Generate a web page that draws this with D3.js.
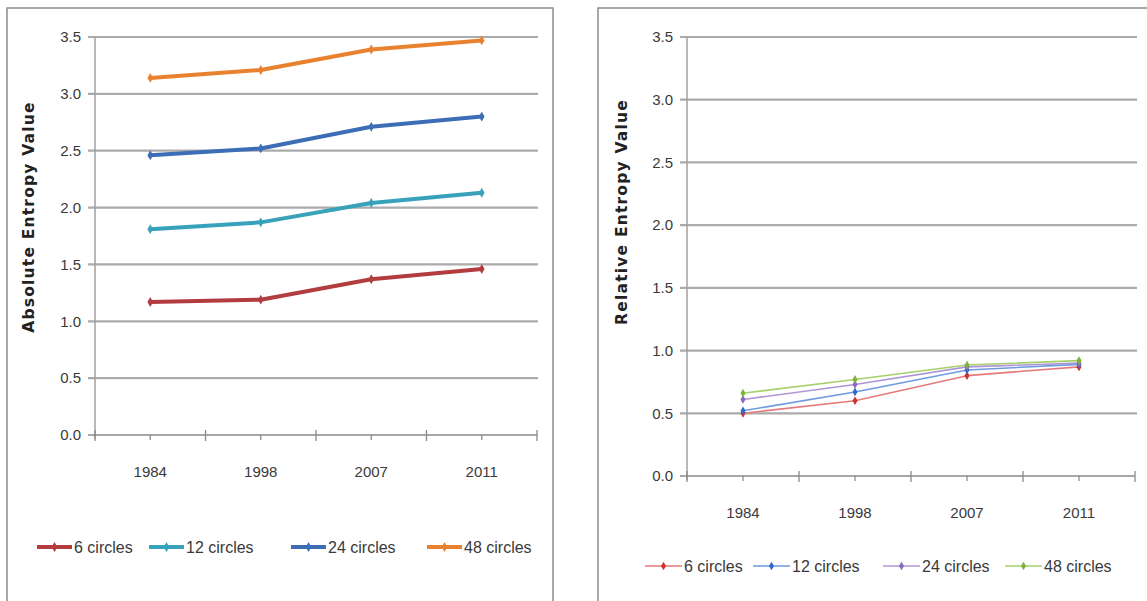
<!DOCTYPE html>
<html><head><meta charset="utf-8">
<script src="https://cdn.jsdelivr.net/npm/d3@7"></script>
<style>
html,body{margin:0;padding:0;background:#fff;}
text{font-family:"Liberation Sans",Arial,sans-serif;fill:#3a3a3a;}
</style></head>
<body><svg id="c" width="1147" height="601"></svg>
<script>
const years = ["1984","1998","2007","2011"];
const seriesNames = ["6 circles","12 circles","24 circles","48 circles"];
const yTicks = [0,0.5,1.0,1.5,2.0,2.5,3.0,3.5];
const absolute6 = [1.17,1.19,1.37,1.46];
const absolute12 = [1.81,1.87,2.04,2.13];
const absolute24 = [2.46,2.52,2.71,2.80];
const absolute48 = [3.14,3.21,3.39,3.47];
const relative6 = [0.50,0.60,0.80,0.87];
const relative12 = [0.52,0.67,0.845,0.89];
const relative24 = [0.61,0.73,0.87,0.90];
const relative48 = [0.66,0.77,0.885,0.92];

const svg = d3.select("#c");

function panel(cfg){
  const g = svg.append("g");
  g.append("rect").attr("x",cfg.frame[0]).attr("y",cfg.frame[1]).attr("width",cfg.frame[2]).attr("height",cfg.frame[3])
    .attr("fill","none").attr("stroke","#8c8c8c").attr("stroke-width",1.5);
  const x = d3.scaleBand().domain(years).range([cfg.x0,cfg.x1]);
  const y = d3.scaleLinear().domain([0,3.5]).range([cfg.y0,cfg.y1]);
  g.selectAll(".grid").data(yTicks.filter(t=>t>0)).join("line")
    .attr("x1",cfg.x0-7).attr("x2",cfg.gx1).attr("y1",d=>y(d)).attr("y2",d=>y(d))
    .attr("stroke","#ababab").attr("stroke-width",2.2);
  g.append("line").attr("x1",cfg.x0).attr("x2",cfg.x0).attr("y1",y(3.5)).attr("y2",y(0)+4)
    .attr("stroke","#a0a0a0").attr("stroke-width",1.5);
  g.append("line").attr("x1",cfg.x0-7).attr("x2",cfg.x1).attr("y1",y(0)).attr("y2",y(0))
    .attr("stroke","#8a8a8a").attr("stroke-width",1.5);
  const bounds = years.map(d=>x(d)).concat([cfg.x1]);
  g.selectAll(".bt").data(bounds).join("line")
    .attr("x1",d=>d).attr("x2",d=>d).attr("y1",y(0)-5).attr("y2",y(0)+6)
    .attr("stroke","#8a8a8a").attr("stroke-width",1.3);
  g.selectAll(".ct").data(years).join("line")
    .attr("x1",d=>x(d)+x.bandwidth()/2).attr("x2",d=>x(d)+x.bandwidth()/2).attr("y1",y(0)).attr("y2",y(0)+5)
    .attr("stroke","#8a8a8a").attr("stroke-width",1.3);
  g.selectAll(".yl").data(yTicks).join("text")
    .attr("x",cfg.x0-14).attr("y",d=>y(d)).attr("dy","0.35em").attr("text-anchor","end")
    .attr("font-size",15).text(d=>d.toFixed(1));
  g.selectAll(".xl").data(years).join("text")
    .attr("x",d=>x(d)+x.bandwidth()/2).attr("y",y(0)+cfg.xlDy).attr("text-anchor","middle")
    .attr("font-size",15).text(d=>d);
  g.append("text").attr("transform",`translate(${cfg.titleX},${cfg.titleY}) rotate(-90)`)
    .attr("text-anchor","middle").attr("font-size",15.5).attr("font-weight","bold")
    .attr("letter-spacing",1.2)
    .style("font-family","'DejaVu Sans',sans-serif").style("fill","#222").text(cfg.title);
  const line = d3.line().x((d,i)=>x(years[i])+x.bandwidth()/2).y(d=>y(d));
  cfg.data.forEach((vals,k)=>{
    g.append("path").datum(vals).attr("d",line).attr("fill","none")
      .attr("stroke",cfg.colors[k]).attr("stroke-width",cfg.lw).attr("stroke-linejoin","round");
    g.selectAll(null).data(vals).join("path")
      .attr("d",d3.symbol(d3.symbolDiamond, cfg.ms))
      .attr("transform",(d,i)=>`translate(${x(years[i])+x.bandwidth()/2},${y(d)})`)
      .attr("fill",cfg.markColors[k]);
  });
  seriesNames.forEach((n,k)=>{
    const lx = cfg.legX[k], ly = cfg.legY;
    g.append("line").attr("x1",lx).attr("x2",lx+cfg.legLen).attr("y1",ly).attr("y2",ly)
      .attr("stroke",cfg.colors[k]).attr("stroke-width",cfg.lw);
    g.append("path").attr("d",d3.symbol(d3.symbolDiamond,cfg.ms))
      .attr("transform",`translate(${lx+cfg.legLen/2},${ly})`).attr("fill",cfg.markColors[k]);
    g.append("text").attr("x",lx+cfg.legLen+2).attr("y",ly).attr("dy","0.35em")
      .attr("font-size",16).text(n);
  });
}

panel({
  frame:[7,8,546,620],
  x0:95, x1:537, gx1:538, y0:435, y1:37,
  xlDy:42,
  title:"Absolute Entropy Value", titleX:34, titleY:217,
  data:[absolute6,absolute12,absolute24,absolute48],
  colors:["#b23c3e","#37a2b9","#3c6db5","#e9822f"],
  markColors:["#b23c3e","#37a2b9","#3c6db5","#e9822f"],
  lw:4, ms:28,
  legX:[37,149,291,427], legY:547, legLen:35
});
panel({
  frame:[598,8,600,620],
  x0:687, x1:1135, gx1:1137, y0:476, y1:37,
  xlDy:42,
  title:"Relative Entropy Value", titleX:627, titleY:212,
  data:[relative6,relative12,relative24,relative48],
  colors:["#e57a7a","#6d9be0","#ae96d6","#a7d06a"],
  markColors:["#d12f2f","#2f6cc9","#8a6ac0","#7fb23a"],
  lw:1.6, ms:22,
  legX:[645,753,883,1005], legY:566, legLen:37
});
</script></body></html>
